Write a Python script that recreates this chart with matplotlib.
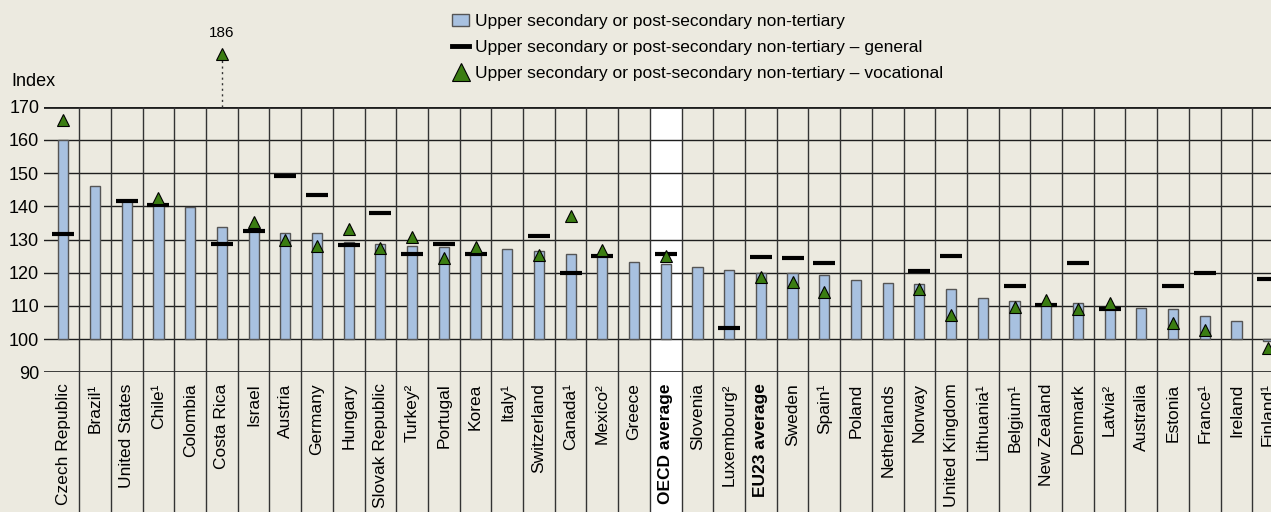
import numpy as np
import matplotlib
matplotlib.use("Agg")
import matplotlib.pyplot as plt
from matplotlib.lines import Line2D
from matplotlib.patches import Patch, Rectangle

plt.rcParams['font.family'] = ['Liberation Sans', 'DejaVu Sans']

countries = ["Czech Republic", "Brazil¹", "United States", "Chile¹", "Colombia", "Costa Rica",
             "Israel", "Austria", "Germany", "Hungary", "Slovak Republic", "Turkey²", "Portugal",
             "Korea", "Italy¹", "Switzerland", "Canada¹", "Mexico²", "Greece", "OECD average",
             "Slovenia", "Luxembourg²", "EU23 average", "Sweden", "Spain¹", "Poland", "Netherlands",
             "Norway", "United Kingdom", "Lithuania¹", "Belgium¹", "New Zealand", "Denmark",
             "Latvia²", "Australia", "Estonia", "France¹", "Ireland", "Finland¹"]

total = [160, 146.1, 141.5, 140.5, 139.8, 133.9, 132.7, 131.9, 131.9, 129.1, 128.7, 128.1, 127.7,
         125.7, 127.1, 126.6, 125.6, 124.9, 123.2, 122.7, 121.7, 120.7, 119.9, 119.9, 119.4, 117.9,
         116.9, 116.6, 115.0, 112.3, 111.4, 110.6, 111.0, 109.1, 109.4, 109.0, 107.1, 105.6, 99.4]

general = [131.6, np.nan, 141.5, 140.5, np.nan, 128.7, 132.6, 149.2, 143.4, 128.3, 138.0, 125.7,
           128.7, 125.7, np.nan, 131.1, 119.9, 124.9, np.nan, 125.7, np.nan, 103.3, 124.7, 124.3,
           122.8, np.nan, np.nan, 120.4, 124.9, np.nan, 116.0, 110.4, 122.8, 109.2, np.nan, 116.0,
           120.0, np.nan, 118.1]

vocational = [165.9, np.nan, np.nan, 142.5, np.nan, 186, 135.2, 129.8, 127.9, 133.3, 127.4, 130.9,
              124.4, 127.7, np.nan, 125.4, 137.2, 126.9, np.nan, 124.9, np.nan, np.nan, 118.6, 117.1,
              114.1, np.nan, np.nan, 115.2, 107.4, np.nan, 109.6, 111.8, 109.2, 111.0, np.nan, 104.9,
              102.6, np.nan, 97.3]

bg = '#ECEAE0'
x = np.arange(len(countries))
ymin, ymax = 90, 170
bottom_val = 47  # y value reached at the bottom edge of the image

fig = plt.figure(figsize=(12.71, 5.12), dpi=100, facecolor=bg)
ax = fig.add_axes([44 / 1271, 1 - 372.3 / 512, 1 - 44 / 1271, 265.6 / 512])
ax.set_facecolor(bg)
ax.set_xlim(-0.61, 38.09)
ax.set_ylim(ymin, ymax)

# white band behind the OECD average
oecd = countries.index("OECD average")
ax.add_patch(Rectangle((oecd - 0.5, bottom_val), 1, ymax - bottom_val, facecolor='white',
                       edgecolor='none', zorder=0, clip_on=False))

# grid
for v in range(100, 171, 10):
    ax.axhline(v, color='#1e1e1e', lw=2 if v == 170 else 1, zorder=1)
ax.axhline(90, color='#1e1e1e', lw=1.2, zorder=1)
ax.vlines(x[:-1] + 0.5, bottom_val, ymax, color='#333333', lw=1, zorder=1, clip_on=False)

ax.bar(x, np.array(total) - 100, bottom=100, width=0.32, color='#A8C1E0', edgecolor='#555555',
       lw=1, zorder=2)
ax.plot(x, general, ls='none', marker='_', ms=16, mew=3, color='black', zorder=3, clip_on=False)
ax.plot(x, vocational, ls='none', marker='^', ms=9, color='#3B7D12', mec='black', mew=0.8,
        zorder=4, clip_on=False)

# off-scale value
for i, v in enumerate(vocational):
    if v > ymax:
        ax.plot([i, i], [ymax, v - 2], color='#333333', lw=1, ls=(0, (1.5, 2.5)), clip_on=False,
                zorder=3)
        ax.text(i, v + 4, f"{v:.0f}", ha='center', va='bottom', fontsize=11)

for s in ax.spines.values():
    s.set_visible(False)
ax.set_yticks(range(90, 171, 10))
ax.tick_params(axis='y', length=0, pad=3.5, labelsize=13)
ax.set_xticks(x)
ax.set_xticklabels(countries, rotation=90, fontsize=12.5)
ax.tick_params(axis='x', length=0, pad=8)
for lbl in ax.get_xticklabels():
    if 'average' in lbl.get_text():
        lbl.set_fontweight('bold')

fig.text(11 / 1271, 1 - 82 / 512, "Index", fontsize=13, va='center', ha='left')

handles = [Patch(facecolor='#A8C1E0', edgecolor='#555555'),
           Line2D([], [], color='black', lw=3.5),
           Line2D([], [], ls='none', marker='^', ms=13, color='#3B7D12', mec='black', mew=0.8)]
labels = ["Upper secondary or post-secondary non-tertiary",
          "Upper secondary or post-secondary non-tertiary – general",
          "Upper secondary or post-secondary non-tertiary – vocational"]
fig.legend(handles, labels, loc='upper left', bbox_to_anchor=(452 / 1271, 1 - 14 / 512),
           frameon=False, fontsize=12.5, handlelength=1.0, handletextpad=0.3,
           labelspacing=0.62, borderpad=0, borderaxespad=0)

fig.savefig("out.png", dpi=100, facecolor=bg)
